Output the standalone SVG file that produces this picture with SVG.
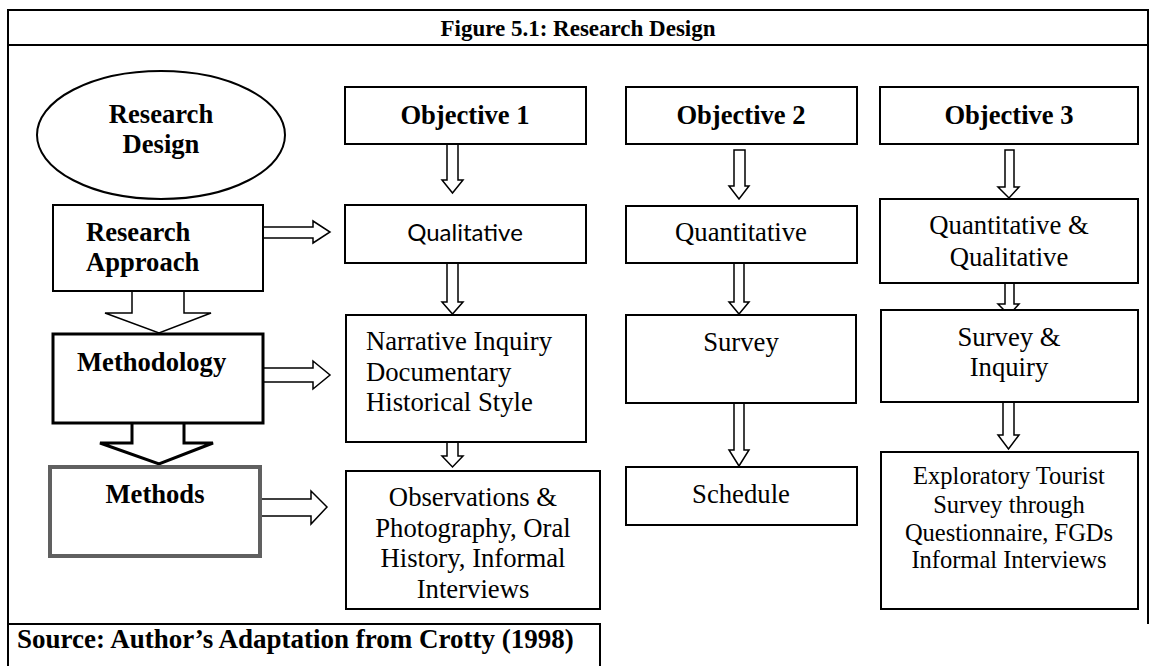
<svg xmlns="http://www.w3.org/2000/svg" width="1150" height="666" viewBox="0 0 1150 666">
<style>
.frame{fill:none;stroke:#000;stroke-width:2}
.box{fill:#fff;stroke:#000;stroke-width:2}
.arr{fill:#fff;stroke:#000;stroke-width:1.5;stroke-linejoin:miter}
.b{font-family:"Liberation Serif","Times New Roman",serif;font-weight:bold;font-size:26.6px;fill:#000}
.r{font-family:"Liberation Serif","Times New Roman",serif;font-size:26.7px;fill:#000}
.s{font-family:"Lato","Open Sans",sans-serif;font-size:24px;fill:#000}
.c{text-anchor:middle}
</style>
<rect width="1150" height="666" fill="#fff"/>
<g id="frame">
<path class="frame" d="M8,666 L8,10 L1148,10 L1148,624 M8,45 L1148,45 M8,624 L600,624 L600,666"/>
<text class="b c" x="578" y="36" style="font-size:23px">Figure 5.1: Research Design</text>
<text class="b" x="17" y="648" style="font-size:27px">Source: Author’s Adaptation from Crotty (1998)</text>
</g>
<g id="connectors">
<path class="arr" d="M447,144 L458,144 L458,180 L463,180 L452.5,193 L442,180 L447,180 Z"/>
<path class="arr" d="M734,150 L745,150 L745,186 L749,186 L739,199 L729,186 L734,186 Z"/>
<path class="arr" d="M1005,150 L1014,150 L1014,187 L1019,187 L1009,198 L998,187 L1005,187 Z"/>
<path class="arr" d="M447,263 L458,263 L458,302 L463,302 L452.5,314 L442,302 L447,302 Z"/>
<path class="arr" d="M734,263 L744,263 L744,302 L749,302 L739,314 L729,302 L734,302 Z"/>
<path class="arr" d="M1005,283 L1014,283 L1014,304 L1019,304 L1009,315 L998,304 L1005,304 Z"/>
<path class="arr" d="M447,440 L458,440 L458,456 L463,456 L452.5,467 L442,456 L447,456 Z"/>
<path class="arr" d="M734,403 L744,403 L744,450 L749,450 L739,466 L729,450 L734,450 Z"/>
<path class="arr" d="M1003,402 L1014,402 L1014,435 L1019,435 L1008.5,449 L998,435 L1003,435 Z"/>
<path class="arr" d="M263,227 L313,227 L313,221 L330,232 L313,243 L313,238 L263,238 Z"/>
<path class="arr" d="M263,368 L313,368 L313,361 L330,375 L313,389 L313,382 L263,382 Z"/>
<path class="arr" d="M260,499 L311,499 L311,491 L327,507 L311,524 L311,516 L260,516 Z"/>
<path class="arr" d="M132,290 L132,313 L105,313 L159,333 L211,313 L184,313 L184,290"/>
<path class="arr" style="stroke-width:3" d="M132,423 L132,443 L100,443 L159,464 L213,443 L184,443 L184,423"/>
</g>
<g id="research-design">
<ellipse cx="161" cy="135" rx="124" ry="64" fill="#fff" stroke="#000" stroke-width="2"/>
<text class="b c" x="161" y="123">Research</text>
<text class="b c" x="161" y="153">Design</text>
</g>
<g id="research-approach">
<rect class="box" x="53" y="205" width="210" height="86"/>
<text class="b" x="86" y="241">Research</text>
<text class="b" x="86" y="271">Approach</text>
</g>
<g id="methodology">
<rect class="box" x="53" y="334" width="210" height="89" style="stroke-width:3"/>
<text class="b" x="77" y="371">Methodology</text>
</g>
<g id="methods">
<rect class="box" x="50" y="467" width="210" height="89" style="stroke:#606060;stroke-width:4"/>
<text class="b c" x="155" y="503">Methods</text>
</g>
<g id="objective-1">
<rect class="box" x="345" y="87" width="241" height="57"/>
<text class="b c" x="465" y="124">Objective 1</text>
</g>
<g id="objective-2">
<rect class="box" x="626" y="87" width="231" height="57"/>
<text class="b c" x="741" y="124">Objective 2</text>
</g>
<g id="objective-3">
<rect class="box" x="880" y="87" width="258" height="57"/>
<text class="b c" x="1009" y="124">Objective 3</text>
</g>
<g id="qualitative">
<rect class="box" x="345" y="205" width="241" height="58"/>
<text class="s c" x="465" y="241">Qualitative</text>
</g>
<g id="quantitative">
<rect class="box" x="626" y="206" width="231" height="57"/>
<text class="r c" x="741" y="241">Quantitative</text>
</g>
<g id="quant-qual">
<rect class="box" x="880" y="199" width="258" height="84"/>
<text class="r c" x="1009" y="234">Quantitative &amp;</text>
<text class="r c" x="1009" y="266">Qualitative</text>
</g>
<g id="narrative">
<rect class="box" x="346" y="315" width="240" height="127"/>
<text class="r" x="366" y="350">Narrative Inquiry</text>
<text class="r" x="366" y="381">Documentary</text>
<text class="r" x="366" y="411">Historical Style</text>
</g>
<g id="survey">
<rect class="box" x="626" y="315" width="230" height="88"/>
<text class="r c" x="741" y="351">Survey</text>
</g>
<g id="survey-inquiry">
<rect class="box" x="881" y="310" width="257" height="92"/>
<text class="r c" x="1009" y="346">Survey &amp;</text>
<text class="r c" x="1009" y="376">Inquiry</text>
</g>
<g id="observations">
<rect class="box" x="346" y="471" width="254" height="138"/>
<text class="r c" x="473" y="506">Observations &amp;</text>
<text class="r c" x="473" y="537">Photography, Oral</text>
<text class="r c" x="473" y="567">History, Informal</text>
<text class="r c" x="473" y="598">Interviews</text>
</g>
<g id="schedule">
<rect class="box" x="626" y="467" width="231" height="58"/>
<text class="r c" x="741" y="503">Schedule</text>
</g>
<g id="exploratory">
<rect class="box" x="881" y="452" width="257" height="157"/>
<text class="r c" x="1009" y="484" style="font-size:24.5px">Exploratory Tourist</text>
<text class="r c" x="1009" y="513" style="font-size:24.5px">Survey through</text>
<text class="r c" x="1009" y="541" style="font-size:24.5px">Questionnaire, FGDs</text>
<text class="r c" x="1009" y="568" style="font-size:24.5px">Informal Interviews</text>
</g>
</svg>
